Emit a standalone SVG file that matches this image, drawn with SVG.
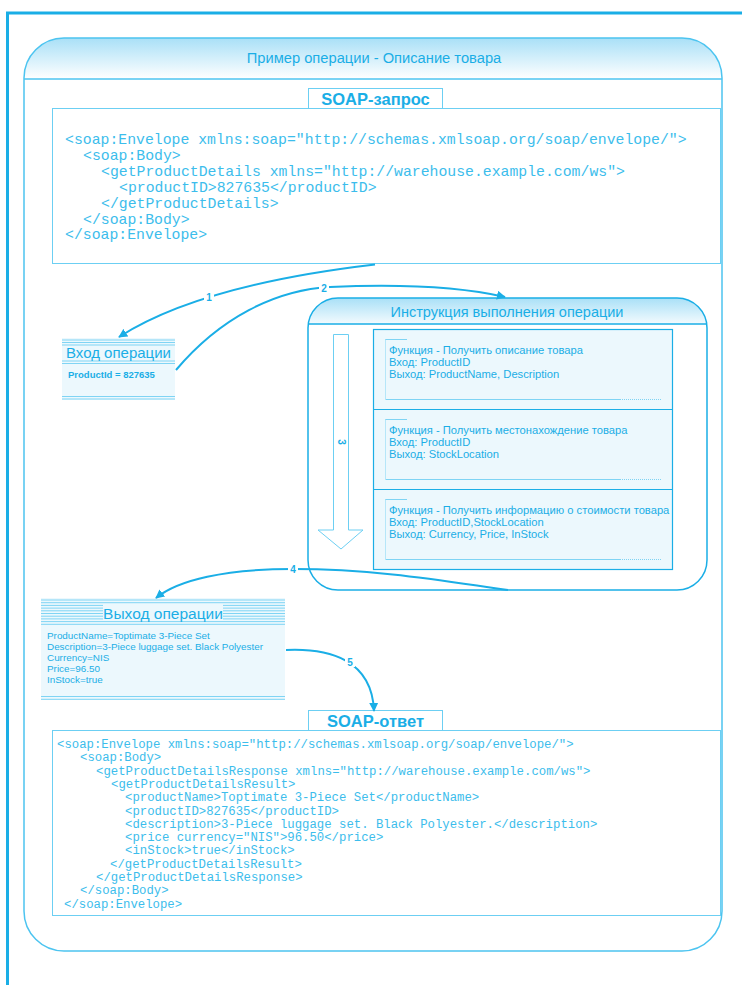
<svg xmlns="http://www.w3.org/2000/svg" width="742" height="985" viewBox="0 0 742 985">
<defs>
<linearGradient id="hdr" x1="0" y1="0" x2="0" y2="1">
<stop offset="0" stop-color="#a9e0f7"/>
<stop offset="1" stop-color="#ffffff"/>
</linearGradient>
<marker id="ah" viewBox="0 0 10 10" refX="9" refY="5" markerWidth="9" markerHeight="9" markerUnits="userSpaceOnUse" orient="auto">
<path d="M0,0 L10,5 L0,10 z" fill="#1aaee6"/>
</marker>
<style>
.frame{stroke:#1aaee6;fill:none}
.box{stroke:#6ccff3;fill:#fff;stroke-width:1}
.lbox{fill:#fff;stroke:#6ccff3;stroke-width:1}
.t{font-family:"Liberation Sans",Arial,sans-serif;fill:#1aaee6}
.code{font-family:"Liberation Mono","Courier New",monospace;fill:#3cbdec}
.lite{fill:#ecf8fd}
.stripe{stroke:#7fd4f4;stroke-width:1}
.conn{stroke:#1aaee6;stroke-width:2;fill:none}
.num{font-family:"Liberation Sans",Arial,sans-serif;font-size:10px;font-weight:bold;fill:#1aaee6;text-anchor:middle}
.fn{font-family:"Liberation Sans",Arial,sans-serif;font-size:11.2px;fill:#1aaee6}
.dot{stroke:#7fd4f4;stroke-width:1;stroke-dasharray:1 1;fill:none}
.sol{stroke:#7fd4f4;stroke-width:1;fill:none}
</style>
</defs>
<rect width="742" height="985" fill="#fff"/>
<!-- outer page frame -->
<g id="page-frame">
<line x1="6" y1="13" x2="742" y2="13" stroke="#1aaee6" stroke-width="3"/>
<line x1="7.5" y1="12" x2="7.5" y2="985" stroke="#1aaee6" stroke-width="3"/>
</g>
<!-- main container -->
<g id="container">
<path d="M24,79 L24,78 A40,40 0 0 1 64,38 L682,38 A40,40 0 0 1 722,78 L722,79 z" fill="url(#hdr)"/>
<rect x="24" y="38" width="698" height="913" rx="40" ry="40" fill="none" stroke="#4cc4f0" stroke-width="1.5"/>
<line x1="24" y1="79" x2="722" y2="79" stroke="#4cc4f0" stroke-width="1.5"/>
<text class="t" x="374" y="63" font-size="14.7" text-anchor="middle">Пример операции - Описание товара</text>
</g>
<!-- SOAP request -->
<g id="soap-request">
<rect class="lbox" x="308.5" y="88.5" width="134" height="20"/>
<text class="t" x="375.5" y="105" font-size="16.5" font-weight="bold" text-anchor="middle">SOAP-запрос</text>
<rect class="box" x="52.5" y="108.5" width="668" height="155"/>
<g class="code" font-size="14.8">
<text x="65" y="144">&lt;soap:Envelope xmlns:soap="http://schemas.xmlsoap.org/soap/envelope/"&gt;</text>
<text x="83" y="160">&lt;soap:Body&gt;</text>
<text x="101" y="176">&lt;getProductDetails xmlns="http://warehouse.example.com/ws"&gt;</text>
<text x="119" y="192">&lt;productID&gt;827635&lt;/productID&gt;</text>
<text x="101" y="207.5">&lt;/getProductDetails&gt;</text>
<text x="83" y="223.5">&lt;/soap:Body&gt;</text>
<text x="65" y="239">&lt;/soap:Envelope&gt;</text>
</g>
</g>
<!-- operation input -->
<g id="op-input">
<rect class="lite" x="62" y="338" width="113" height="62"/>
<line class="stripe" x1="62" y1="340" x2="175" y2="340"/>
<line class="stripe" x1="62" y1="342.5" x2="175" y2="342.5"/>
<line class="stripe" x1="62" y1="345" x2="175" y2="345"/>
<line class="stripe" x1="62" y1="361" x2="175" y2="361"/>
<line class="stripe" x1="62" y1="363.5" x2="175" y2="363.5"/>
<line class="stripe" x1="62" y1="396.5" x2="175" y2="396.5"/>
<line class="stripe" x1="62" y1="399" x2="175" y2="399"/>
<text class="t" x="118.5" y="358" font-size="15" text-anchor="middle">Вход операции</text>
<text class="t" x="68" y="378" font-size="9.5" font-weight="bold">ProductId = 827635</text>
</g>
<!-- execution instructions -->
<g id="op-instructions">
<path d="M308,324 L308,328 A30,30 0 0 1 338,298 L677,298 A30,30 0 0 1 707,328 L707,324 z" fill="url(#hdr)"/>
<rect x="308" y="298" width="399" height="292" rx="30" ry="30" fill="none" stroke="#1aaee6" stroke-width="1.5"/>
<line x1="308" y1="324" x2="707" y2="324" stroke="#1aaee6" stroke-width="1.5"/>
<text class="t" x="507" y="317" font-size="14.5" text-anchor="middle">Инструкция выполнения операции</text>
<path d="M333.5,334.5 L348.5,334.5 L348.5,530 L363,530 L341,549 L318,530 L333.5,530 z" fill="#fff" stroke="#6ccff3" stroke-width="1"/>
<text class="num" x="0" y="0" transform="translate(338,442) rotate(90)" font-size="8">3</text>
<rect x="373.5" y="329.5" width="299" height="240" fill="#ecf8fd" stroke="#1aaee6" stroke-width="1.2"/>
<line x1="373.5" y1="409.5" x2="672.5" y2="409.5" stroke="#1aaee6" stroke-width="1.2"/>
<line x1="373.5" y1="489.5" x2="672.5" y2="489.5" stroke="#1aaee6" stroke-width="1.2"/>
</g>
<g id="func-1">
<path class="sol" d="M407,339.5 L385.5,339.5"/>
<path class="dot" d="M385.5,339.5 L385.5,399.5"/>
<path class="sol" d="M385.5,399.5 L620,399.5"/>
<path class="dot" d="M620,399.5 L662,399.5"/>
<text class="fn" x="389" y="354">Функция - Получить описание товара</text>
<text class="fn" x="389" y="366">Вход: ProductID</text>
<text class="fn" x="389" y="378">Выход: ProductName, Description</text>
</g>
<g id="func-2">
<path class="sol" d="M407,419.5 L385.5,419.5"/>
<path class="dot" d="M385.5,419.5 L385.5,479.5"/>
<path class="sol" d="M385.5,479.5 L620,479.5"/>
<path class="dot" d="M620,479.5 L662,479.5"/>
<text class="fn" x="389" y="434">Функция - Получить местонахождение товара</text>
<text class="fn" x="389" y="446">Вход: ProductID</text>
<text class="fn" x="389" y="458">Выход: StockLocation</text>
</g>
<g id="func-3">
<path class="sol" d="M407,499.5 L385.5,499.5"/>
<path class="dot" d="M385.5,499.5 L385.5,559.5"/>
<path class="sol" d="M385.5,559.5 L620,559.5"/>
<path class="dot" d="M620,559.5 L662,559.5"/>
<text class="fn" x="389" y="514">Функция - Получить информацию о стоимости товара</text>
<text class="fn" x="389" y="526">Вход: ProductID,StockLocation</text>
<text class="fn" x="389" y="538">Выход: Currency, Price, InStock</text>
</g>
<!-- operation output -->
<g id="op-output">
<rect class="lite" x="41" y="598" width="244" height="102"/>
<g class="stripe">
<line x1="41" y1="600" x2="285" y2="600"/>
<line x1="41" y1="602.7" x2="285" y2="602.7"/>
<line x1="41" y1="605.4" x2="285" y2="605.4"/>
<line x1="41" y1="608.1" x2="285" y2="608.1"/>
<line x1="41" y1="610.8" x2="285" y2="610.8"/>
<line x1="41" y1="613.5" x2="285" y2="613.5"/>
<line x1="41" y1="616.2" x2="285" y2="616.2"/>
<line x1="41" y1="618.9" x2="285" y2="618.9"/>
<line x1="41" y1="621.6" x2="285" y2="621.6"/>
<line x1="41" y1="624.3" x2="285" y2="624.3"/>
<line x1="41" y1="696.5" x2="285" y2="696.5"/>
<line x1="41" y1="699.3" x2="285" y2="699.3"/>
</g>
<rect x="103" y="604" width="120" height="17" fill="#ecf8fd"/>
<text class="t" x="163" y="619" font-size="15.5" text-anchor="middle">Выход операции</text>
<g class="t" font-size="9.9">
<text x="47" y="639">ProductName=Toptimate 3-Piece Set</text>
<text x="47" y="650">Description=3-Piece luggage set. Black Polyester</text>
<text x="47" y="661">Currency=NIS</text>
<text x="47" y="672">Price=96.50</text>
<text x="47" y="683">InStock=true</text>
</g>
</g>
<!-- SOAP response -->
<g id="soap-response">
<rect class="lbox" x="308.5" y="710.5" width="134" height="20"/>
<text class="t" x="375.5" y="727" font-size="16.5" font-weight="bold" text-anchor="middle">SOAP-ответ</text>
<rect class="box" x="52.5" y="730.5" width="668" height="185"/>
<g class="code" font-size="12.3">
<text x="57" y="748">&lt;soap:Envelope xmlns:soap="http://schemas.xmlsoap.org/soap/envelope/"&gt;</text>
<text x="80" y="761.3">&lt;soap:Body&gt;</text>
<text x="96" y="774.6">&lt;getProductDetailsResponse xmlns="http://warehouse.example.com/ws"&gt;</text>
<text x="111" y="787.9">&lt;getProductDetailsResult&gt;</text>
<text x="125" y="801.2">&lt;productName&gt;Toptimate 3-Piece Set&lt;/productName&gt;</text>
<text x="125" y="814.5">&lt;productID&gt;827635&lt;/productID&gt;</text>
<text x="125" y="827.8">&lt;description&gt;3-Piece luggage set. Black Polyester.&lt;/description&gt;</text>
<text x="125" y="841.1">&lt;price currency="NIS"&gt;96.50&lt;/price&gt;</text>
<text x="125" y="854.4">&lt;inStock&gt;true&lt;/inStock&gt;</text>
<text x="110" y="867.7">&lt;/getProductDetailsResult&gt;</text>
<text x="96" y="881">&lt;/getProductDetailsResponse&gt;</text>
<text x="80" y="894.3">&lt;/soap:Body&gt;</text>
<text x="64" y="907.6">&lt;/soap:Envelope&gt;</text>
</g>
</g>
<!-- connectors -->
<g id="connectors">
<path class="conn" d="M375,264.5 Q200,285 119,337" marker-end="url(#ah)"/>
<path class="conn" d="M176,370 C220,318 275,290 330,287 C420,283 470,289 505,297" marker-end="url(#ah)"/>
<path class="conn" d="M508,590 C450,582 380,569 293,569 C225,569 178,580 156,598" marker-end="url(#ah)"/>
<path class="conn" d="M286,650 C330,648 372,660 374,711" marker-end="url(#ah)"/>
<rect x="204" y="291" width="10" height="11" fill="#fff"/>
<text class="num" x="209" y="300.5">1</text>
<rect x="319" y="282" width="10" height="11" fill="#fff"/>
<text class="num" x="324" y="291.5">2</text>
<rect x="288" y="563.5" width="10" height="11" fill="#fff"/>
<text class="num" x="293" y="573">4</text>
<rect x="345" y="656" width="10" height="11" fill="#fff"/>
<text class="num" x="350" y="665.5">5</text>
</g>
</svg>
